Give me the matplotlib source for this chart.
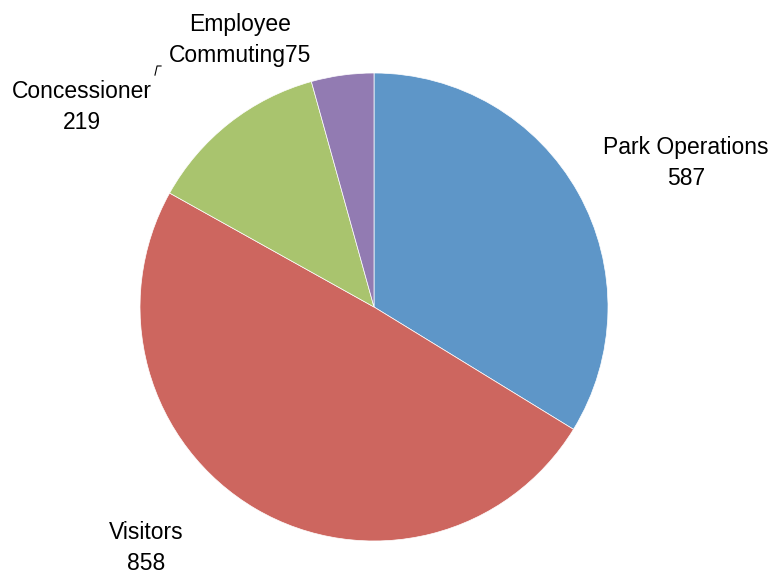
import matplotlib
matplotlib.use('Agg')
import matplotlib.pyplot as plt

labels = ['Park Operations', 'Visitors', 'Concessioner', 'Employee\nCommuting']
values = [587, 858, 219, 75]
colors = ['#5e96c8', '#cd665f', '#a9c46e', '#927bb2']
# label positions in data units (pie radius = 1)
label_pos = [(1.333, 0.615), (-0.974, -1.03), (-1.248, 0.855), (-0.573, 1.141)]
label_sep = ['\n', '\n', '\n', '']

plt.rcParams['font.family'] = ['Liberation Sans', 'DejaVu Sans']

fig = plt.figure(figsize=(7.76, 5.76), dpi=100)
ax = fig.add_axes([140 / 776, 35 / 576, 468 / 776, 468 / 576])

ax.pie(values, colors=colors, startangle=90, counterclock=False, radius=1,
       wedgeprops=dict(linewidth=0.5, edgecolor='white'))

for lab, val, (x, y), sep in zip(labels, values, label_pos, label_sep):
    ax.text(x, y, lab + sep + str(val), ha='center', va='center', fontsize=16.5,
            linespacing=1.4, clip_on=False)

# small leader line near the commuting label
ax.plot([-0.936, -0.927, -0.910], [0.991, 1.030, 1.030], color='black', lw=0.8,
        clip_on=False)

ax.set_xlim(-1, 1)
ax.set_ylim(-1, 1)
ax.set_aspect('equal')
ax.axis('off')

fig.savefig('out.png', dpi=100)
